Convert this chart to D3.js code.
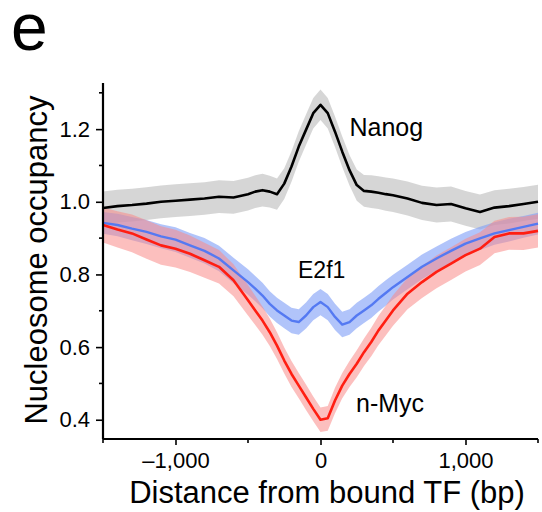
<!DOCTYPE html>
<html>
<head>
<meta charset="utf-8">
<script src="https://cdn.jsdelivr.net/npm/d3@7"></script>
<style>
  body { margin: 0; background: #fff; }
  text { font-family: "Liberation Sans", Arial, sans-serif; fill: #000; }
</style>
</head>
<body>
<div class="chart"></div>
<script>
var w = 542;
var h = 512;
var paddingLeft = 103;
var paddingRight = 4;
var paddingTop = 83;
var paddingBottom = 73;

// distance from bound TF (bp)
var position = [-1500, -1400, -1300, -1200, -1100, -1000, -900, -800, -700, -600,
  -500, -450, -400, -350, -300, -250, -200, -150, -100, -50, 0,
  50, 100, 150, 200, 250, 300, 350, 400, 450, 500,
  600, 700, 800, 900, 1000, 1100, 1200, 1300, 1400, 1500];

var nanog = [0.983, 0.988, 0.991, 0.995, 1.000, 1.003, 1.006, 1.009, 1.014, 1.012,
  1.021, 1.028, 1.032, 1.028, 1.021, 1.050, 1.097, 1.152, 1.198, 1.244, 1.267,
  1.244, 1.193, 1.138, 1.087, 1.046, 1.030, 1.028, 1.025, 1.021, 1.018,
  1.009, 0.997, 0.991, 0.994, 0.982, 0.972, 0.984, 0.988, 0.994, 1.000];
var nanogErr = [0.045, 0.045, 0.045, 0.045, 0.045, 0.045, 0.045, 0.045, 0.045, 0.045,
  0.045, 0.045, 0.045, 0.044, 0.043, 0.042, 0.042, 0.042, 0.042, 0.042, 0.042,
  0.042, 0.042, 0.042, 0.042, 0.043, 0.044, 0.045, 0.045, 0.046, 0.046,
  0.047, 0.047, 0.048, 0.048, 0.048, 0.048, 0.048, 0.048, 0.047, 0.047];

var e2f1 = [0.942, 0.936, 0.926, 0.917, 0.905, 0.896, 0.880, 0.865, 0.844, 0.811,
  0.779, 0.761, 0.742, 0.719, 0.701, 0.687, 0.673, 0.669, 0.687, 0.710, 0.724,
  0.710, 0.683, 0.662, 0.669, 0.687, 0.701, 0.715, 0.733, 0.749, 0.765,
  0.793, 0.821, 0.844, 0.865, 0.885, 0.899, 0.913, 0.922, 0.931, 0.940];
var e2f1Err = [0.030, 0.031, 0.032, 0.033, 0.033, 0.034, 0.034, 0.035, 0.035, 0.035,
  0.035, 0.035, 0.035, 0.035, 0.035, 0.035, 0.035, 0.035, 0.036, 0.036, 0.036,
  0.036, 0.036, 0.035, 0.035, 0.035, 0.035, 0.035, 0.035, 0.035, 0.034,
  0.034, 0.034, 0.033, 0.033, 0.032, 0.032, 0.031, 0.031, 0.030, 0.030];

var nMyc = [0.936, 0.924, 0.913, 0.896, 0.880, 0.871, 0.857, 0.839, 0.821, 0.784,
  0.729, 0.701, 0.673, 0.641, 0.604, 0.563, 0.526, 0.494, 0.462, 0.430, 0.400,
  0.404, 0.453, 0.494, 0.526, 0.554, 0.586, 0.614, 0.646, 0.673, 0.701,
  0.747, 0.779, 0.807, 0.830, 0.853, 0.871, 0.903, 0.913, 0.913, 0.920];
var nMycErr = [0.048, 0.050, 0.052, 0.053, 0.053, 0.052, 0.050, 0.048, 0.046, 0.044,
  0.042, 0.040, 0.039, 0.038, 0.037, 0.036, 0.036, 0.035, 0.035, 0.034, 0.034,
  0.034, 0.035, 0.035, 0.036, 0.037, 0.038, 0.039, 0.040, 0.041, 0.042,
  0.043, 0.044, 0.045, 0.045, 0.045, 0.045, 0.045, 0.045, 0.046, 0.046];

var xTicks = [-1000, 0, 1000];
var xMinorTicks = [-1500, -500, 500, 1500];
var yTicks = [0.4, 0.6, 0.8, 1.0, 1.2];
var yMinorTicks = [0.5, 0.7, 0.9, 1.1, 1.3];

var series = [
  {name: "Nanog", values: nanog, err: nanogErr, line: "#000000", band: "#c8c8c8", bandOpacity: 0.75, width: 2.6},
  {name: "E2f1", values: e2f1, err: e2f1Err, line: "#5479f2", band: "#7d9cf7", bandOpacity: 0.6, width: 2.4},
  {name: "n-Myc", values: nMyc, err: nMycErr, line: "#ff1e12", band: "#f98a88", bandOpacity: 0.55, width: 2.6}
];

// label positions (data coords)
var labels = [
  {text: "Nanog", x: 200, y: 1.18, size: 25},
  {text: "E2f1", x: -155, y: 0.79, size: 23},
  {text: "n-Myc", x: 245, y: 0.42, size: 25}
];

var xScale = d3.scaleLinear()
               .domain([-1500, 1500])
               .range([paddingLeft, w - paddingRight]);

var yScale = d3.scaleLinear()
               .domain([0.347, 1.327])
               .range([h - paddingBottom, paddingTop]);

var svg = d3.select(".chart").append("svg")
            .attr("width", w)
            .attr("height", h);

// panel letter
svg.append("text")
   .attr("x", 11)
   .attr("y", 50)
   .style("font-size", "66px")
   .text("e");

// error bands
series.forEach(function(s) {
  var data = position.map(function(p, i) {
    return {x: p, y: s.values[i], e: s.err[i]};
  });
  var area = d3.area()
               .x(function(d) { return xScale(d.x); })
               .y0(function(d) { return yScale(d.y - d.e); })
               .y1(function(d) { return yScale(d.y + d.e); });
  svg.append("path")
     .datum(data)
     .attr("d", area)
     .style("fill", s.band)
     .style("fill-opacity", s.bandOpacity)
     .style("stroke", "none");
});

// mean lines
series.forEach(function(s) {
  var data = position.map(function(p, i) {
    return {x: p, y: s.values[i]};
  });
  var line = d3.line()
               .x(function(d) { return xScale(d.x); })
               .y(function(d) { return yScale(d.y); });
  svg.append("path")
     .datum(data)
     .attr("d", line)
     .style("fill", "none")
     .style("stroke", s.line)
     .style("stroke-width", s.width)
     .style("stroke-linejoin", "round");
});

// axes
var xAxis = d3.axisBottom(xScale)
              .tickValues(xTicks)
              .tickSize(6)
              .tickPadding(7)
              .tickFormat(function(d) {
                return d < 0 ? "\u2013" + d3.format(",")(-d) : d3.format(",")(d);
              });

var yAxis = d3.axisLeft(yScale)
              .tickValues(yTicks)
              .tickSize(7)
              .tickPadding(6)
              .tickFormat(d3.format(".1f"));

var gx = svg.append("g")
   .attr("transform", "translate(0," + (h - paddingBottom) + ")")
   .call(xAxis);

var gy = svg.append("g")
   .attr("transform", "translate(" + paddingLeft + ",0)")
   .call(yAxis);

gx.append("g").selectAll("line")
  .data(xMinorTicks)
  .enter()
  .append("line")
  .attr("x1", function(d) { return xScale(d); })
  .attr("x2", function(d) { return xScale(d); })
  .attr("y1", 0)
  .attr("y2", 4);

gy.append("g").selectAll("line")
  .data(yMinorTicks)
  .enter()
  .append("line")
  .attr("x1", -4)
  .attr("x2", 0)
  .attr("y1", function(d) { return yScale(d); })
  .attr("y2", function(d) { return yScale(d); });

[gx, gy].forEach(function(g) {
  g.select(".domain").style("stroke", "#000").style("stroke-width", 2.2);
  g.selectAll("line").style("stroke", "#000").style("stroke-width", 1.6);
  g.selectAll("text")
   .style("font-size", "22px")
   .style("font-family", "'Liberation Sans', Arial, sans-serif")
   .style("fill", "#000");
});
gx.select(".domain").attr("d", "M" + paddingLeft + ",0H" + (w - paddingRight));
gy.select(".domain").attr("d", "M0," + (h - paddingBottom) + "V" + paddingTop);

// axis titles
svg.append("text")
   .attr("text-anchor", "middle")
   .attr("x", 327)
   .attr("y", 503)
   .style("font-size", "31px")
   .text("Distance from bound TF (bp)");

svg.append("text")
   .attr("text-anchor", "middle")
   .attr("transform", "translate(47,260) rotate(-90)")
   .style("font-size", "31px")
   .text("Nucleosome occupancy");

// series labels
svg.selectAll("seriesLabel")
   .data(labels)
   .enter()
   .append("text")
   .attr("x", function(d) { return xScale(d.x); })
   .attr("y", function(d) { return yScale(d.y); })
   .style("font-size", function(d) { return d.size + "px"; })
   .text(function(d) { return d.text; });
</script>
</body>
</html>
